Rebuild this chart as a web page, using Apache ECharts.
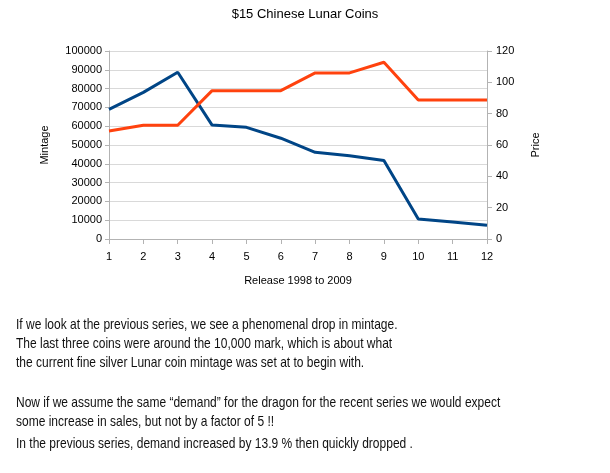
<!DOCTYPE html>
<html><head><meta charset="utf-8">
<script src="https://cdn.jsdelivr.net/npm/echarts@6/dist/echarts.min.js"></script>
<style>html,body{margin:0;padding:0;background:#fff}#c{width:610px;height:473px}</style>
</head><body><div id="c"></div>
<script>
const categories = ['1','2','3','4','5','6','7','8','9','10','11','12'];
const mintage = [69000, 78000, 88700, 60600, 59400, 53600, 46100, 44300, 41700, 10600, 9000, 7300];
const price = [68.9, 72.6, 72.6, 94.7, 94.7, 94.7, 106, 106, 112.8, 88.7, 88.7, 88.7];
const textLines = [
  'If we look at the previous series, we see a phenomenal drop in mintage.',
  'The last three coins were around the 10,000 mark, which is about what',
  'the current fine silver Lunar coin mintage was set at to begin with.',
  'Now if we assume the same \u201cdemand\u201d for the dragon for the recent series we would expect',
  'some increase in sales, but not by a factor of 5 !!',
  'In the previous series, demand increased by 13.9 % then quickly dropped .'
];
const lineY = [325, 344, 363, 403, 422, 444];

const chart = echarts.init(document.getElementById('c'), null, {renderer:'canvas'});
const F = 'Liberation Sans, Arial, sans-serif';
const axisLbl = {color:'#000', fontFamily:F, fontSize:11};
chart.setOption({
  animation:false,
  title:{text:'$15 Chinese Lunar Coins', left:'center', top:3, textStyle:{fontFamily:F, fontSize:13, fontWeight:'normal', color:'#000'}},
  grid:{left:109, right:123, top:51, bottom:234},
  xAxis:{type:'category', data:categories, boundaryGap:false,
    name:'Release 1998 to 2009', nameLocation:'middle', nameGap:36,
    nameTextStyle:{fontFamily:F, fontSize:11, color:'#000'},
    axisLine:{lineStyle:{color:'#b3b3b3'}}, axisTick:{show:true, length:5, lineStyle:{color:'#b3b3b3'}},
    axisLabel:Object.assign({margin:12}, axisLbl), splitLine:{show:false}},
  yAxis:[
    {type:'value', min:0, max:100000, interval:10000, name:'Mintage', nameLocation:'middle', nameGap:59, nameRotate:90,
     nameTextStyle:{fontFamily:F, fontSize:11, color:'#000'},
     axisLine:{show:true, lineStyle:{color:'#b3b3b3'}}, axisTick:{show:true, length:4, lineStyle:{color:'#b3b3b3'}},
     axisLabel:Object.assign({margin:7, formatter:v=>String(v)}, axisLbl), splitLine:{lineStyle:{color:'#d9d9d9'}}},
    {type:'value', min:0, max:120, interval:20, name:'Price', nameLocation:'middle', nameGap:43, nameRotate:90,
     nameTextStyle:{fontFamily:F, fontSize:11, color:'#000'}, position:'right',
     axisLine:{show:true, lineStyle:{color:'#b3b3b3'}}, axisTick:{show:true, length:5, lineStyle:{color:'#b3b3b3'}},
     axisLabel:Object.assign({margin:9}, axisLbl), splitLine:{show:false}}
  ],
  series:[
    {type:'line', name:'Mintage', data:mintage, yAxisIndex:0, symbol:'none', lineStyle:{color:'#004586', width:3}, itemStyle:{color:'#004586'}},
    {type:'line', name:'Price', data:price, yAxisIndex:1, symbol:'none', lineStyle:{color:'#ff420e', width:3}, itemStyle:{color:'#ff420e'}}
  ],
  graphic: textLines.map((t,i)=>({type:'text', x:16, y:lineY[i], scaleX:0.8,
    style:{text:t, font:'15px "Liberation Sans", Arial, sans-serif', fill:'#111', verticalAlign:'middle'}}))
});
</script></body></html>
